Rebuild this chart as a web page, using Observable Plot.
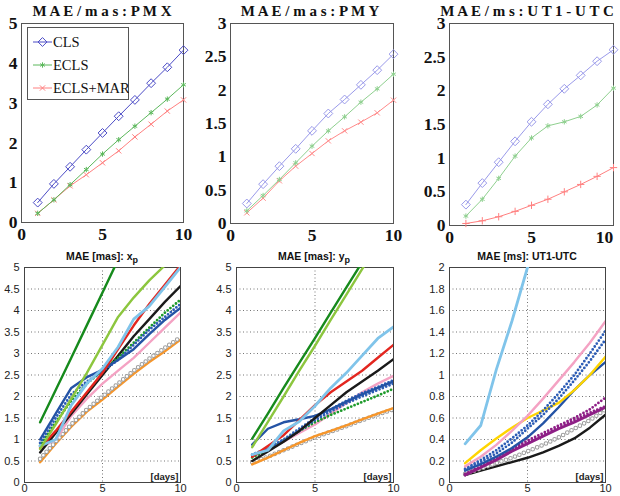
<!DOCTYPE html>
<html><head><meta charset="utf-8">
<script src="https://cdn.jsdelivr.net/npm/d3@7"></script>
<script src="https://cdn.jsdelivr.net/npm/@observablehq/plot@0.6"></script>
<style>
body{margin:0;background:#fff;}
#wrap{position:relative;width:620px;height:496px;overflow:hidden;background:#fff;}
.p{position:absolute;}
.t1{position:absolute;font-family:"Liberation Serif",serif;font-weight:bold;font-size:15px;line-height:1;white-space:pre;transform:translateX(-50%);color:#111;}
.t2{position:absolute;font-family:"Liberation Sans",Arial,sans-serif;font-weight:bold;font-size:10.5px;line-height:1;white-space:nowrap;transform:translateX(-50%);color:#111;}
.t2 sub{font-size:9px;vertical-align:-3px;line-height:0;}
</style></head><body><div id="wrap"></div><script>
// ---------- data ----------
const days = [1,2,3,4,5,6,7,8,9,10];
const xTicks = [0,5,10];
const pmxTicks = [0,1,2,3,4,5];
const pmyTicks = [0,0.5,1,1.5,2,2.5,3];
const bTicks5 = [0,0.5,1,1.5,2,2.5,3,3.5,4,4.5,5];
const bTicks2 = [0,0.2,0.4,0.6,0.8,1,1.2,1.4,1.6,1.8,2];
const methods = ["CLS","ECLS","ECLS+MAR"];

// top row
const pmxCLS  = [0.50,0.97,1.40,1.83,2.25,2.67,3.08,3.50,3.90,4.33];
const pmxECLS = [0.23,0.57,0.95,1.33,1.72,2.08,2.42,2.76,3.10,3.46];
const pmxMAR  = [0.23,0.57,0.92,1.20,1.50,1.80,2.15,2.47,2.80,3.08];
const pmyCLS  = [0.30,0.59,0.86,1.12,1.39,1.65,1.86,2.08,2.30,2.54];
const pmyECLS = [0.19,0.42,0.66,0.91,1.16,1.39,1.60,1.82,2.02,2.24];
const pmyMAR  = [0.16,0.38,0.64,0.86,1.05,1.24,1.39,1.52,1.66,1.85];
const utCLS   = [0.31,0.63,0.94,1.25,1.54,1.80,2.03,2.23,2.44,2.61];
const utECLS  = [0.14,0.39,0.70,1.03,1.30,1.48,1.54,1.62,1.79,2.04];
const utMAR   = [0.03,0.07,0.13,0.21,0.30,0.39,0.50,0.61,0.73,0.86];

// bottom row: x_p
const xpDarkGreen  = [1.40,2.15,2.90,3.66,4.42,5.18,5.94];
const xpLightGreen = [0.78,1.35,1.95,2.55,3.20,3.85,4.30,4.70,5.05,5.40];
const xpRed        = [0.80,1.20,1.65,2.10,2.55,3.10,3.65,4.15,4.60,5.05];
const xpLightBlue  = [0.85,1.00,1.80,2.30,2.65,3.15,3.80,4.10,4.55,5.00];
const xpBlack      = [0.70,1.15,1.60,2.05,2.50,2.95,3.40,3.80,4.20,4.57];
const xpBlue       = [1.00,1.60,2.20,2.45,2.62,2.85,3.10,3.45,3.78,4.06];
const xpBlueDot    = [0.92,1.50,2.05,2.35,2.58,2.85,3.20,3.55,3.85,4.15];
const xpGreenDot   = [0.85,1.40,1.90,2.30,2.60,2.90,3.25,3.60,3.95,4.25];
const xpPink       = [0.80,1.00,1.55,1.95,2.30,2.60,2.90,3.25,3.60,3.95];
const xpGray       = [0.55,0.95,1.35,1.70,2.00,2.30,2.60,2.88,3.13,3.38];
const xpOrange     = [0.47,0.90,1.30,1.65,1.93,2.23,2.53,2.80,3.05,3.32];

// bottom row: y_p
const ypDarkGreen  = [1.02,1.60,2.20,2.78,3.36,3.95,4.54,5.12];
const ypLightGreen = [0.82,1.41,2.00,2.60,3.18,3.78,4.37,4.96,5.55];
const ypLightBlue  = [0.65,0.75,1.20,1.42,1.78,2.20,2.55,2.95,3.35,3.62];
const ypRed        = [0.60,0.85,1.10,1.45,1.80,2.10,2.35,2.60,2.90,3.20];
const ypBlack      = [0.50,0.72,0.95,1.20,1.50,1.80,2.10,2.35,2.60,2.87];
const ypPink       = [0.60,0.78,0.95,1.15,1.35,1.60,1.85,2.10,2.30,2.48];
const ypBlue       = [0.88,1.25,1.40,1.47,1.55,1.70,1.88,2.05,2.20,2.35];
const ypBlueDot    = [0.65,0.80,1.00,1.25,1.50,1.70,1.90,2.08,2.22,2.38];
const ypBlueDot2   = [0.62,0.77,0.97,1.20,1.45,1.65,1.84,2.00,2.15,2.30];
const ypGreenDot   = [0.58,0.75,0.98,1.20,1.40,1.57,1.72,1.87,2.02,2.18];
const ypOrange     = [0.42,0.58,0.75,0.92,1.08,1.20,1.33,1.47,1.60,1.73];
const ypGray       = [0.47,0.60,0.75,0.90,1.05,1.18,1.31,1.45,1.58,1.70];

// bottom row: UT1-UTC
const utLightBlue  = [0.36,0.53,1.05,1.50,2.00,2.50];
const utPink       = [0.15,0.24,0.35,0.48,0.62,0.78,0.95,1.12,1.30,1.50];
const utBlueDot    = [0.13,0.21,0.30,0.41,0.53,0.67,0.83,1.00,1.20,1.41];
const utBlueDot2   = [0.12,0.19,0.27,0.37,0.50,0.63,0.78,0.95,1.13,1.33];
const utYellow     = [0.18,0.30,0.41,0.51,0.60,0.67,0.74,0.86,1.00,1.17];
const utBlue       = [0.11,0.17,0.24,0.32,0.42,0.55,0.70,0.86,1.00,1.12];
const utPurpleDot  = [0.08,0.15,0.23,0.31,0.39,0.46,0.53,0.60,0.68,0.79];
const utPurpleDot2 = [0.07,0.14,0.22,0.30,0.37,0.44,0.51,0.58,0.65,0.71];
const utPurple     = [0.07,0.14,0.21,0.29,0.36,0.43,0.50,0.56,0.63,0.70];
const utGray       = [0.08,0.13,0.18,0.23,0.29,0.35,0.42,0.50,0.58,0.68];
const utBlack      = [0.07,0.11,0.15,0.19,0.23,0.28,0.34,0.41,0.51,0.63];

// ---------- helpers ----------
const wrap = document.getElementById("wrap");
const rows = arr => days.slice(0, arr.length).map((d,i) => ({day:d, v:arr[i]}));
function place(el, left, top){ el.classList.add("p"); el.style.left=left+"px"; el.style.top=top+"px"; wrap.appendChild(el); }

const C = {
  darkGreen:"#168a1c", lightGreen:"#8cc63e", red:"#e3261f", lightBlue:"#80c4ea", black:"#1a1a1a",
  blue:"#2453a5", blueDot:"#2d5db6", greenDot:"#1d9a2a", pink:"#f4a2c3", gray:"#9c9c9c",
  orange:"#f7962a", purple:"#8e1f86", yellow:"#ffd500"
};

function topPanel({left, width, mL, mR, mB, yMax, yTicks, lastDx = 0, series}){
  const marks = [
    Plot.frame({stroke:"#555"}),
    Plot.axisX(xTicks.slice(0, -1), {label:null, tickSize:0, tickPadding:5, tickFormat:d=>String(d)}),
    Plot.axisX(xTicks.slice(-1), {label:null, tickSize:0, tickPadding:5, dx:lastDx, tickFormat:d=>String(d)}),
    Plot.axisY(yTicks, {label:null, tickSize:0, tickPadding:4, tickFormat:d=>String(d)})
  ];
  for (const s of series){
    const r = rows(s.v);
    marks.push(Plot.line(r, {x:"day", y:"v", stroke:s.color, strokeWidth:1}));
    marks.push(Plot.dot(r, {x:"day", y:"v", symbol:s.symbol, stroke:s.color, fill:"none", r:s.r, strokeWidth:1}));
  }
  const p = Plot.plot({
    width, height:245, marginLeft:mL, marginRight:mR, marginTop:23, marginBottom:mB,
    style:{fontFamily:"'Liberation Serif', serif", fontSize:"17.5px", fontWeight:"bold", color:"#111", background:"transparent", overflow:"visible"},
    x:{domain:[0,10], label:null}, y:{domain:[0,yMax], label:null},
    marks
  });
  place(p, left, 0);
}

function bottomPanel({left, width, mL, mR, yMax, yTicks, series}){
  const marks = [
    Plot.gridY(yTicks, {stroke:"#666", strokeOpacity:0.9, strokeDasharray:"1,2.5"}),
    Plot.gridX([5], {stroke:"#666", strokeOpacity:0.9, strokeDasharray:"1,2.5"}),
    Plot.frame({stroke:"#444"}),
    Plot.axisX(xTicks, {label:null, tickSize:0, tickPadding:2, tickFormat:d=>String(d)}),
    Plot.axisY(yTicks, {label:null, tickSize:0, tickPadding:5, tickFormat:d=>String(d)})
  ];
  for (const s of series){
    const r = rows(s.v);
    if (s.kind === "dot"){
      marks.push(Plot.line(r, {x:"day", y:"v", stroke:s.color, strokeWidth:2.8, strokeDasharray:"0,3.6", strokeLinecap:"round", clip:true}));
    } else if (s.kind === "rings"){
      marks.push(Plot.line(r, {x:"day", y:"v", stroke:s.color, strokeWidth:4.6, strokeDasharray:"0,4.8", strokeLinecap:"round", clip:true}));
      marks.push(Plot.line(r, {x:"day", y:"v", stroke:"#fff", strokeWidth:2.6, strokeDasharray:"0,4.8", strokeLinecap:"round", clip:true}));
    } else {
      marks.push(Plot.line(r, {x:"day", y:"v", stroke:s.color, strokeWidth:s.w || 2.4, clip:true}));
    }
  }
  marks.push(Plot.text(["[days]"], {text:d=>d, frameAnchor:"bottom-right", dx:-2, dy:-3, fontWeight:"bold", fontSize:9.5, fill:"#222"}));
  const p = Plot.plot({
    width, height:251, marginLeft:mL, marginRight:mR, marginTop:22, marginBottom:14,
    style:{fontFamily:"'Liberation Sans', Arial, sans-serif", fontSize:"11px", color:"#222", background:"transparent", overflow:"visible"},
    x:{domain:[0,10], label:null}, y:{domain:[0,yMax], label:null},
    marks
  });
  place(p, left, 245);
}

// ---------- top row ----------
const topColorsDark = {CLS:"#4b4bc6", ECLS:"#5cb85c", MAR:"#ff8080"};
const topColorsLight = {CLS:"#9a9aea", ECLS:"#8fd08f", MAR:"#ff8a8a"};
topPanel({left:0, width:200, mL:21, mR:17, mB:23, yMax:5, yTicks:pmxTicks, series:[
  {v:pmxMAR, color:topColorsDark.MAR, symbol:"times", r:2.5},
  {v:pmxECLS, color:topColorsDark.ECLS, symbol:"asterisk", r:2.5},
  {v:pmxCLS, color:topColorsDark.CLS, symbol:"diamond2", r:4}
]});
topPanel({left:205, width:205, mL:25, mR:17, mB:22, yMax:3, yTicks:pmyTicks, series:[
  {v:pmyMAR, color:topColorsLight.MAR, symbol:"times", r:2.5},
  {v:pmyECLS, color:topColorsLight.ECLS, symbol:"asterisk", r:2.5},
  {v:pmyCLS, color:topColorsLight.CLS, symbol:"diamond2", r:4}
]});
topPanel({left:410, width:210, mL:39, mR:7, mB:20, yMax:3, yTicks:pmyTicks, lastDx:-9, series:[
  {v:utMAR, color:topColorsDark.MAR, symbol:"plus", r:2.5},
  {v:utECLS, color:topColorsLight.ECLS, symbol:"asterisk", r:2.5},
  {v:utCLS, color:topColorsLight.CLS, symbol:"diamond2", r:4}
]});

// top titles
[["M A E / m a s : P M X",102],["M A E / m a s : P M Y",310],["M A E / m s : U T 1 - U T C",527]].forEach(([t,x])=>{
  const d=document.createElement("div"); d.className="t1"; d.textContent=t; d.style.left=x+"px"; d.style.top="4px"; wrap.appendChild(d);
});

// legend (top-left panel)
{
  const leg = d3.create("svg").attr("width",102).attr("height",73)
    .style("position","absolute").style("left","27px").style("top","27px");
  leg.append("rect").attr("x",0.5).attr("y",0.5).attr("width",101).attr("height",72)
    .attr("fill","#fff").attr("stroke","#555");
  const ent = [
    {name:methods[0], color:topColorsDark.CLS, sym:d3.symbolDiamond2, size:50},
    {name:methods[1], color:topColorsDark.ECLS, sym:d3.symbolAsterisk, size:20},
    {name:methods[2], color:topColorsDark.MAR, sym:d3.symbolTimes, size:20}
  ];
  ent.forEach((e,i)=>{
    const y = 15 + i*23;
    leg.append("line").attr("x1",6).attr("x2",25).attr("y1",y).attr("y2",y).attr("stroke",e.color);
    leg.append("path").attr("d",d3.symbol(e.sym,e.size)()).attr("transform",`translate(15.5,${y})`)
      .attr("fill","none").attr("stroke",e.color);
    leg.append("text").attr("x",26).attr("y",y+5).text(e.name)
      .attr("font-family","'Liberation Serif', serif").attr("font-size","14.5px").attr("fill","#111");
  });
  wrap.appendChild(leg.node());
}

// ---------- bottom row ----------
bottomPanel({left:0, width:205, mL:24, mR:25, yMax:5, yTicks:bTicks5, series:[
  {v:xpOrange, color:C.orange},
  {v:xpGray, color:C.gray, kind:"rings"},
  {v:xpPink, color:C.pink},
  {v:xpBlack, color:C.black},
  {v:xpGreenDot, color:C.greenDot, kind:"dot"},
  {v:xpBlueDot, color:C.blueDot, kind:"dot"},
  {v:xpBlue, color:C.blue},
  {v:xpRed, color:C.red},
  {v:xpLightBlue, color:C.lightBlue, w:2.8},
  {v:xpLightGreen, color:C.lightGreen},
  {v:xpDarkGreen, color:C.darkGreen}
]});
bottomPanel({left:205, width:205, mL:31, mR:17, yMax:5, yTicks:bTicks5, series:[
  {v:ypGray, color:C.gray, kind:"rings"},
  {v:ypOrange, color:C.orange},
  {v:ypPink, color:C.pink},
  {v:ypGreenDot, color:C.greenDot, kind:"dot"},
  {v:ypBlueDot2, color:C.blueDot, kind:"dot"},
  {v:ypBlueDot, color:C.blueDot, kind:"dot"},
  {v:ypBlue, color:C.blue},
  {v:ypBlack, color:C.black},
  {v:ypRed, color:C.red},
  {v:ypLightBlue, color:C.lightBlue, w:2.8},
  {v:ypLightGreen, color:C.lightGreen},
  {v:ypDarkGreen, color:C.darkGreen}
]});
bottomPanel({left:410, width:210, mL:39, mR:15, yMax:2, yTicks:bTicks2, series:[
  {v:utBlack, color:C.black},
  {v:utGray, color:C.gray, kind:"rings"},
  {v:utPurple, color:C.purple, w:2.8},
  {v:utPurpleDot2, color:C.purple, kind:"dot"},
  {v:utPurpleDot, color:C.purple, kind:"dot"},
  {v:utBlue, color:C.blue},
  {v:utYellow, color:C.yellow},
  {v:utBlueDot2, color:C.blueDot, kind:"dot"},
  {v:utBlueDot, color:C.blueDot, kind:"dot"},
  {v:utPink, color:C.pink},
  {v:utLightBlue, color:C.lightBlue, w:2.8}
]});

// bottom titles
[["MAE [mas]: x","p",102],["MAE [mas]: y","p",314],["MAE [ms]: UT1-UTC","",527]].forEach(([t,s,x])=>{
  const d=document.createElement("div"); d.className="t2"; d.style.left=x+"px"; d.style.top="251px";
  d.appendChild(document.createTextNode(t));
  if (s){ const sub=document.createElement("sub"); sub.textContent=s; d.appendChild(sub); }
  wrap.appendChild(d);
});
</script></body></html>
